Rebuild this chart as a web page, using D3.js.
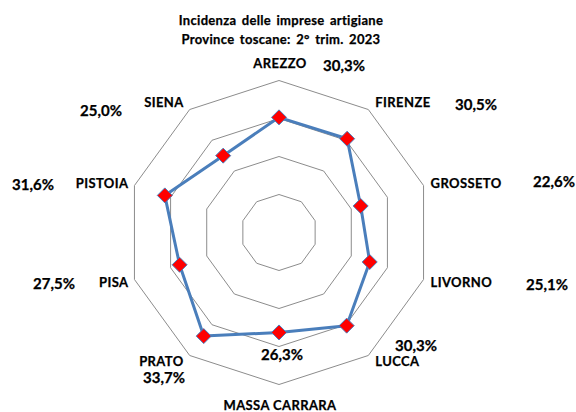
<!DOCTYPE html>
<html>
<head>
<meta charset="utf-8">
<script src="https://cdn.jsdelivr.net/npm/d3@7"></script>
<style>
  body { margin: 0; background: #fff; }
  text { font-family: Lato, "Open Sans", sans-serif; font-weight: bold; fill: #000; stroke: #000; stroke-width: 0.25px; }
</style>
</head>
<body>
<div id="chart"></div>
<script>
// dati: incidenza imprese artigiane per provincia (2° trim. 2023)
const province = ["AREZZO", "FIRENZE", "GROSSETO", "LIVORNO", "LUCCA",
  "MASSA CARRARA", "PRATO", "PISA", "PISTOIA", "SIENA"]
const incidenza = [30.3, 30.5, 22.6, 25.1, 30.3, 26.3, 33.7, 27.5, 31.6, 25.0]
const ringTicks = [10, 20, 30, 40]
const titleLines = ["Incidenza delle imprese artigiane", "Province toscane: 2° trim. 2023"]

// posizioni delle etichette dei valori (spostate a mano come nell'originale)
const valueLabelPos = [[344, 65], [476, 104], [554, 181], [547, 284], [416, 345],
  [282, 354], [164, 377], [54, 283], [33, 184], [101, 110]]

const width = 576
const height = 412
const cx = 279, cy = 232.5
const radius = 152

const svg = d3.select("#chart").append("svg")
  .attr("width", width).attr("height", height)

const g = svg.append("g").attr("transform", `translate(${cx}, ${cy})`)

const r = d3.scaleLinear().domain([0, 40]).range([0, radius])
const angle = d3.scaleLinear().domain([0, province.length]).range([0, 2 * Math.PI])

const pt = (i, v) => [Math.sin(angle(i)) * r(v), -Math.cos(angle(i)) * r(v)]

// griglia
ringTicks.forEach(t => {
  g.append("polygon")
    .attr("points", province.map((p, i) => pt(i, t).join(",")).join(" "))
    .attr("fill", "none")
    .attr("stroke", "#8c8c8c")
    .attr("stroke-width", 1)
})

// linea serie
const line = d3.line().curve(d3.curveLinearClosed)
g.append("path")
  .attr("d", line(incidenza.map((v, i) => pt(i, v))))
  .attr("fill", "none")
  .attr("stroke", "#4a7ebb")
  .attr("stroke-width", 3)
  .attr("stroke-linejoin", "round")

// marker a rombo
g.selectAll(".marker").data(incidenza).enter().append("path")
  .attr("class", "marker")
  .attr("transform", (d, i) => `translate(${pt(i, d)})`)
  .attr("d", "M0,-7.5L7.5,0L0,7.5L-7.5,0Z")
  .attr("fill", "#ff0000")
  .attr("stroke", "#4a7ebb")
  .attr("stroke-width", 1)

// etichette categorie
const maxV = r.domain()[1]
g.selectAll(".cat").data(province).enter().append("text")
  .attr("class", "cat")
  .attr("font-size", "13px")
  .attr("letter-spacing", "0.4px")
  .attr("dominant-baseline", "central")
  .each(function(d, i) {
    const [vx, vy] = pt(i, maxV)
    const s = Math.sin(angle(i)), c = Math.cos(angle(i))
    const el = d3.select(this).text(d)
    if (Math.abs(s) < 0.1) {
      el.attr("text-anchor", "middle").attr("x", vx + 1)
        .attr("y", c > 0 ? vy - 18 : vy + 20)
    } else {
      el.attr("text-anchor", s > 0 ? "start" : "end")
        .attr("x", vx + (s > 0 ? 7 : -6))
        .attr("y", vy - c * 8 - (c > 0.5 || c < -0.5 ? 1 : 0))
    }
  })

// etichette valori
svg.selectAll(".val").data(incidenza).enter().append("text")
  .attr("class", "val")
  .attr("font-size", "15px")
  .attr("text-anchor", "middle")
  .attr("dominant-baseline", "central")
  .attr("x", (d, i) => valueLabelPos[i][0])
  .attr("y", (d, i) => valueLabelPos[i][1])
  .text(d => d.toFixed(1).replace(".", ",") + "%")

// titolo
svg.selectAll(".title").data(titleLines).enter().append("text")
  .attr("class", "title")
  .attr("font-size", "13px")
  .attr("letter-spacing", "0.3px")
  .attr("word-spacing", "2px")
  .attr("text-anchor", "middle")
  .attr("dominant-baseline", "central")
  .attr("x", 281)
  .attr("y", (d, i) => 20 + i * 19)
  .text(d => d)
</script>
</body>
</html>
